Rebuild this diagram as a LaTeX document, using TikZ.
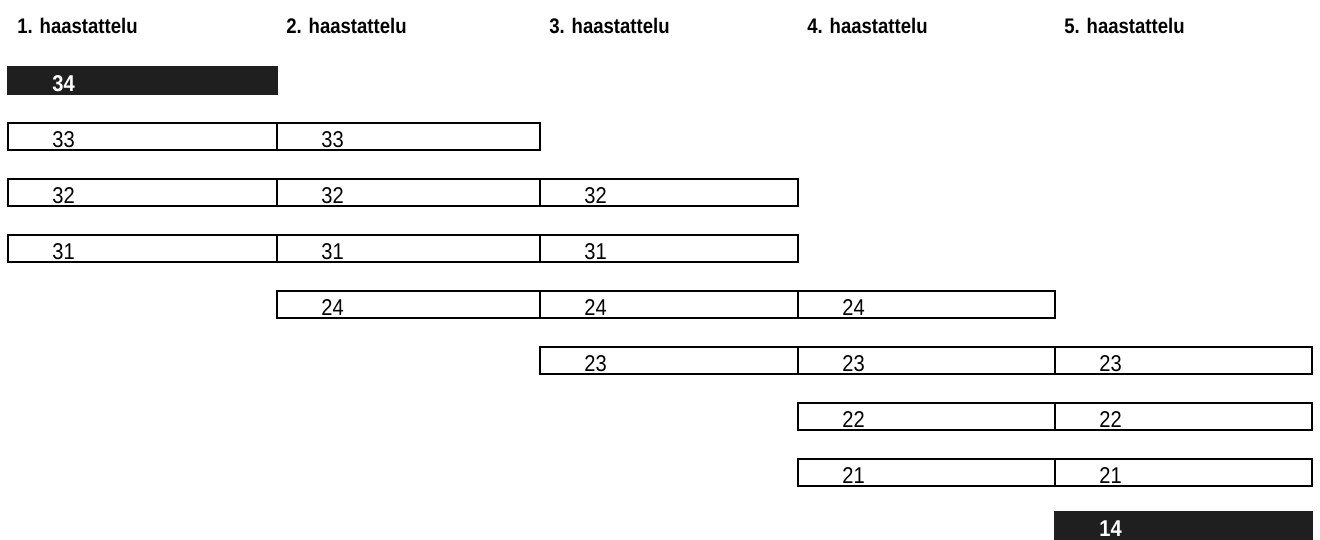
\documentclass[tikz,border=0pt]{standalone}
\usepackage{fontspec}
\setmainfont{Liberation Sans}
\newfontfamily\narrowsans[FakeStretch=0.88]{Liberation Sans}
\usetikzlibrary{positioning}
\tikzset{
  cell/.style={rectangle,draw=black,line width=0.8pt,anchor=north west,
    minimum height=0.54cm,inner sep=0pt,outer sep=0pt},
  darkcell/.style={cell,fill=black!88,draw=black!88},
  colA/.style={minimum width=5.38cm},
  colB/.style={minimum width=5.26cm},
  colC/.style={minimum width=5.16cm},
  colD/.style={minimum width=5.14cm},
  colE/.style={minimum width=5.14cm},
  num/.style={label={[font=\narrowsans\fontsize{13}{15}\selectfont,anchor=base west,
    inner sep=0pt,xshift=0.88cm,yshift=0.05cm]south west:#1}},
  wnum/.style={label={[font=\narrowsans\fontsize{13}{15}\selectfont\bfseries,text=white,
    anchor=base west,inner sep=0pt,xshift=0.88cm,yshift=0.05cm]south west:#1}}
}

\begin{document}
\begin{tikzpicture}[x=0.02cm,y=-0.02cm,
  head/.style={font=\narrowsans\fontsize{12}{14}\selectfont\bfseries,anchor=base west,inner sep=0pt}
]
\useasboundingbox (0,0) rectangle (1320,539);

% Headers
\node[head] (h1) at (17,33) {1. haastattelu};
\node[head] (h2) at (286,33) {2. haastattelu};
\node[head] (h3) at (549,33) {3. haastattelu};
\node[head] (h4) at (807,33) {4. haastattelu};
\node[head] (h5) at (1064,33) {5. haastattelu};

% Group 34
\node[darkcell,colA,wnum=34] (a34) at (8,67) {};

% Group 33
\node[cell,colA,num=33] (a33) at (8,123) {};
\node[cell,colB,num=33] (b33) at (277,123) {};

% Group 32
\node[cell,colA,num=32] (a32) at (8,179) {};
\node[cell,colB,num=32] (b32) at (277,179) {};
\node[cell,colC,num=32] (c32) at (540,179) {};

% Group 31
\node[cell,colA,num=31] (a31) at (8,235) {};
\node[cell,colB,num=31] (b31) at (277,235) {};
\node[cell,colC,num=31] (c31) at (540,235) {};

% Group 24
\node[cell,colB,num=24] (b24) at (277,291) {};
\node[cell,colC,num=24] (c24) at (540,291) {};
\node[cell,colD,num=24] (d24) at (798,291) {};

% Group 23
\node[cell,colC,num=23] (c23) at (540,347) {};
\node[cell,colD,num=23] (d23) at (798,347) {};
\node[cell,colE,num=23] (e23) at (1055,347) {};

% Group 22
\node[cell,colD,num=22] (d22) at (798,403) {};
\node[cell,colE,num=22] (e22) at (1055,403) {};

% Group 21
\node[cell,colD,num=21] (d21) at (798,459) {};
\node[cell,colE,num=21] (e21) at (1055,459) {};

% Group 14
\node[darkcell,colE,wnum=14] (e14) at (1055,512) {};

\end{tikzpicture}
\end{document}
